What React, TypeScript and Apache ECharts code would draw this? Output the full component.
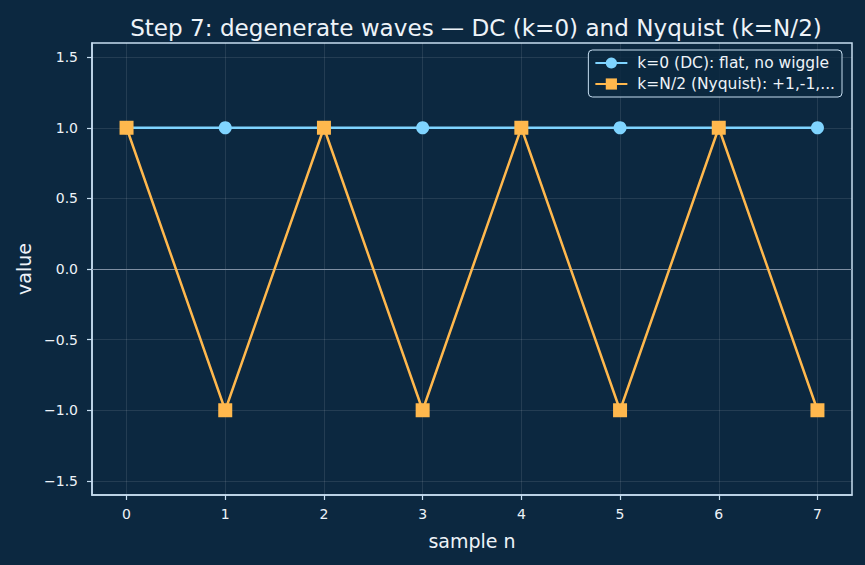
import { useEffect, useRef } from 'react';
import * as echarts from 'echarts';

const samples = [0, 1, 2, 3, 4, 5, 6, 7];
const dcValues = [1, 1, 1, 1, 1, 1, 1, 1];
const nyquistValues = [1, -1, 1, -1, 1, -1, 1, -1];
const xTicks = [0, 1, 2, 3, 4, 5, 6, 7];
const yTicks = [-1.5, -1, -0.5, 0, 0.5, 1, 1.5];
const dcName = 'k=0 (DC): flat, no wiggle';
const nyName = 'k=N/2 (Nyquist): +1,-1,...';
const titleText = 'Step 7: degenerate waves — DC (k=0) and Nyquist (k=N/2)';

const BG = '#0c2840';
const FG = '#eef3f8';
const SPINE = '#c6ddf0';
const FONT = 'DejaVu Sans';

export default function App() {
  const ref = useRef<HTMLDivElement>(null);
  useEffect(() => {
    document.body.style.margin = '0';
    const chart = echarts.init(ref.current!, null, { renderer: 'svg' });
    chart.setOption({
      animation: false,
      backgroundColor: BG,
      textStyle: { fontFamily: FONT },
      title: {
        text: titleText,
        left: 471,
        textAlign: 'center',
        top: 11,
        textStyle: { color: FG, fontSize: 23.1, fontWeight: 'normal', fontFamily: FONT },
      },
      legend: {
        right: 23,
        top: 50,
        orient: 'vertical',
        itemWidth: 32,
        itemHeight: 14,
        itemGap: 5,
        padding: [5, 7, 5, 6],
        backgroundColor: 'rgba(12,40,64,0.85)',
        borderColor: SPINE,
        borderWidth: 1,
        borderRadius: 4,
        textStyle: { color: FG, fontSize: 15.5, fontFamily: FONT, padding: [0, 0, 0, 5] },
        data: [dcName, nyName],
      },
      grid: {
        left: 92,
        right: 13,
        top: 43,
        bottom: 70,
        show: true,
        borderColor: SPINE,
        borderWidth: 1.5,
        backgroundColor: 'transparent',
      },
      xAxis: {
        type: 'value',
        min: -0.35,
        max: 7.35,
        name: 'sample n',
        nameLocation: 'middle',
        nameGap: 36,
        nameTextStyle: { color: FG, fontSize: 19, fontFamily: FONT },
        axisLine: { show: true, onZero: false, lineStyle: { color: SPINE, width: 1.5 } },
        axisTick: { show: true, customValues: xTicks, length: 5, lineStyle: { color: SPINE, width: 1.2 } },
        axisLabel: {
          customValues: xTicks,
          color: FG,
          fontSize: 14,
          margin: 12,
          fontFamily: FONT,
          formatter: (v: number) => String(v),
        },
        splitLine: { show: true, lineStyle: { color: 'rgba(255,255,255,0.1)', width: 1 } },
      },
      yAxis: {
        type: 'value',
        min: -1.6,
        max: 1.6,
        name: 'value',
        nameLocation: 'middle',
        nameGap: 59,
        nameRotate: 90,
        nameTextStyle: { color: FG, fontSize: 19, fontFamily: FONT },
        axisLine: { show: true, onZero: false, lineStyle: { color: SPINE, width: 1.5 } },
        axisTick: { show: true, customValues: yTicks, length: 5, lineStyle: { color: SPINE, width: 1.2 } },
        axisLabel: {
          customValues: yTicks,
          color: FG,
          fontSize: 14,
          margin: 14,
          fontFamily: FONT,
          formatter: (v: number) => v.toFixed(1).replace('-', '\u2212'),
        },
        splitLine: { show: true, lineStyle: { color: 'rgba(255,255,255,0.1)', width: 1 } },
      },
      series: [
        {
          name: dcName,
          type: 'line',
          data: samples.map((n, i) => [n, dcValues[i]]),
          symbol: 'circle',
          symbolSize: 13,
          lineStyle: { color: '#7fd4ff', width: 2.5 },
          itemStyle: { color: '#7fd4ff' },
          z: 3,
          markLine: {
            silent: true,
            symbol: 'none',
            label: { show: false },
            lineStyle: { color: '#7f8fa3', width: 1, type: 'solid' },
            data: [{ yAxis: 0 }],
            z: 1,
          },
        },
        {
          name: nyName,
          type: 'line',
          data: samples.map((n, i) => [n, nyquistValues[i]]),
          symbol: 'rect',
          symbolSize: 14,
          lineStyle: { color: '#ffb84d', width: 2.5 },
          itemStyle: { color: '#ffb84d' },
          z: 4,
        },
      ],
    });
    return () => chart.dispose();
  }, []);
  return <div ref={ref} style={{ position: 'fixed', left: 0, top: 0, width: 865, height: 565 }} />;
}
